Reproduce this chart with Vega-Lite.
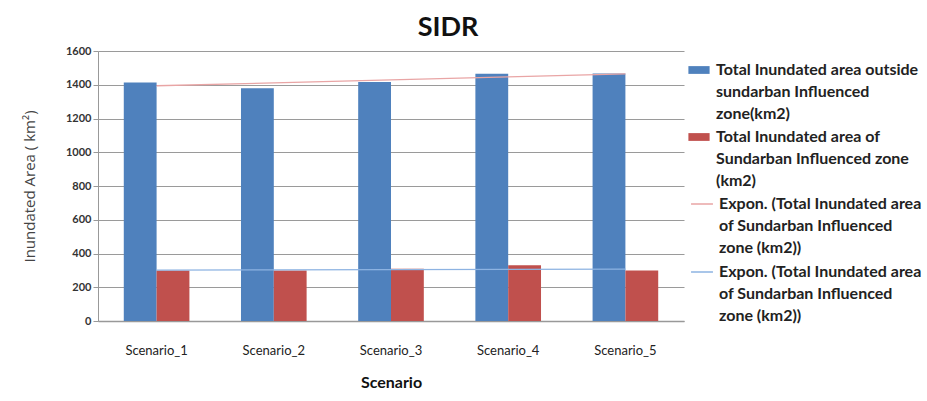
{
  "$schema": "https://vega.github.io/schema/vega-lite/v6.json",
  "width": 586,
  "height": 270,
  "padding": {"left": 22, "top": 14, "right": 0, "bottom": 0},
  "background": "white",
  "title": {"text": "SIDR", "fontSize": 27, "font": "Lato", "fontWeight": "bold", "color": "#111", "anchor": "middle", "frame": "group", "dx": 57, "offset": 3},
  "datasets": {
    "bars": [
      {"scenario": "Scenario_1", "series": "outside", "value": 1414},
      {"scenario": "Scenario_1", "series": "of", "value": 300},
      {"scenario": "Scenario_2", "series": "outside", "value": 1380},
      {"scenario": "Scenario_2", "series": "of", "value": 300},
      {"scenario": "Scenario_3", "series": "outside", "value": 1416},
      {"scenario": "Scenario_3", "series": "of", "value": 310},
      {"scenario": "Scenario_4", "series": "outside", "value": 1465},
      {"scenario": "Scenario_4", "series": "of", "value": 331},
      {"scenario": "Scenario_5", "series": "outside", "value": 1467},
      {"scenario": "Scenario_5", "series": "of", "value": 300}
    ],
    "trend": [
      {"scenario": "Scenario_1", "trend": "t1", "value": 1394},
      {"scenario": "Scenario_2", "trend": "t1", "value": 1411},
      {"scenario": "Scenario_3", "trend": "t1", "value": 1429},
      {"scenario": "Scenario_4", "trend": "t1", "value": 1447},
      {"scenario": "Scenario_5", "trend": "t1", "value": 1465},
      {"scenario": "Scenario_1", "trend": "t2", "value": 302},
      {"scenario": "Scenario_2", "trend": "t2", "value": 303.5},
      {"scenario": "Scenario_3", "trend": "t2", "value": 305},
      {"scenario": "Scenario_4", "trend": "t2", "value": 306.5},
      {"scenario": "Scenario_5", "trend": "t2", "value": 308}
    ]
  },
  "config": {
    "view": {"stroke": null},
    "font": "Lato"
  },
  "encoding": {
    "x": {
      "field": "scenario", "type": "nominal", "title": "Scenario",
      "scale": {"paddingInner": 0.44, "paddingOuter": 0.22},
      "axis": {"labelAngle": 0, "labelFont": "Lato", "labelFontSize": 13, "labelColor": "#222", "labelPadding": 23, "ticks": false, "domainColor": "#999", "domainWidth": 1.5, "titleFont": "Lato", "titleFontSize": 16, "titleFontWeight": "bold", "titleColor": "#111", "titlePadding": 17}
    },
    "y": {
      "field": "value", "type": "quantitative",
      "title": "Inundated Area ( km²)",
      "scale": {"domain": [0, 1600], "nice": false},
      "axis": {"values": [0, 200, 400, 600, 800, 1000, 1200, 1400, 1600], "format": "d", "labelFont": "Lato", "labelFontSize": 11, "labelFontWeight": "bold", "labelColor": "#333", "tickColor": "#999", "tickSize": 5, "domainColor": "#999", "gridColor": "#9a9a9a", "gridWidth": 1.2, "titleFont": "Open Sans", "titleFontSize": 15, "titleFontWeight": "normal", "titleColor": "#444", "titlePadding": 28}
    }
  },
  "layer": [
    {
      "data": {"name": "bars"},
      "mark": {"type": "bar"},
      "encoding": {
        "xOffset": {"field": "series", "type": "nominal", "sort": ["outside", "of"]},
        "color": {
          "field": "series", "type": "nominal",
          "scale": {"domain": ["outside", "of"], "range": ["#4F81BD", "#C0504D"]},
          "legend": {
            "title": null, "orient": "none", "legendX": 593, "legendY": 11,
            "symbolType": "M-1.5,-0.55H1.5V0.55H-1.5Z", "symbolSize": 200, "symbolStrokeWidth": 0,
            "labelFont": "Lato", "labelFontSize": 16, "labelFontWeight": "bold", "labelColor": "#222", "labelLimit": 300, "labelOffset": 9,
            "rowPadding": 7,
            "labelExpr": "datum.value == 'outside' ? ['Total Inundated area outside', 'sundarban Influenced', 'zone(km2)'] : ['Total Inundated area of', 'Sundarban Influenced zone', '(km2)']",
            "encode": {"labels": {"update": {"lineHeight": {"value": 22}}}}
          }
        }
      }
    },
    {
      "data": {"name": "trend"},
      "mark": {"type": "line", "strokeWidth": 1.3},
      "encoding": {
        "stroke": {
          "field": "trend", "type": "nominal",
          "scale": {"domain": ["t1", "t2"], "range": ["#E9A5A5", "#8DB3E2"]},
          "legend": {
            "title": null, "orient": "none", "legendX": 592, "legendY": 141,
            "symbolType": "stroke", "symbolSize": 480, "symbolStrokeWidth": 1.5,
            "labelFont": "Lato", "labelFontSize": 16, "labelFontWeight": "bold", "labelColor": "#222", "labelLimit": 300, "labelOffset": 5,
            "rowPadding": 4,
            "labelExpr": "['Expon. (Total Inundated area', 'of Sundarban Influenced', 'zone (km2))']",
            "encode": {
              "labels": {"update": {"lineHeight": {"value": 22}}},
              "symbols": {"update": {"stroke": {"signal": "datum.value == 't1' ? '#444' : '#8DB3E2'"}}}
            }
          }
        }
      }
    }
  ]
}
